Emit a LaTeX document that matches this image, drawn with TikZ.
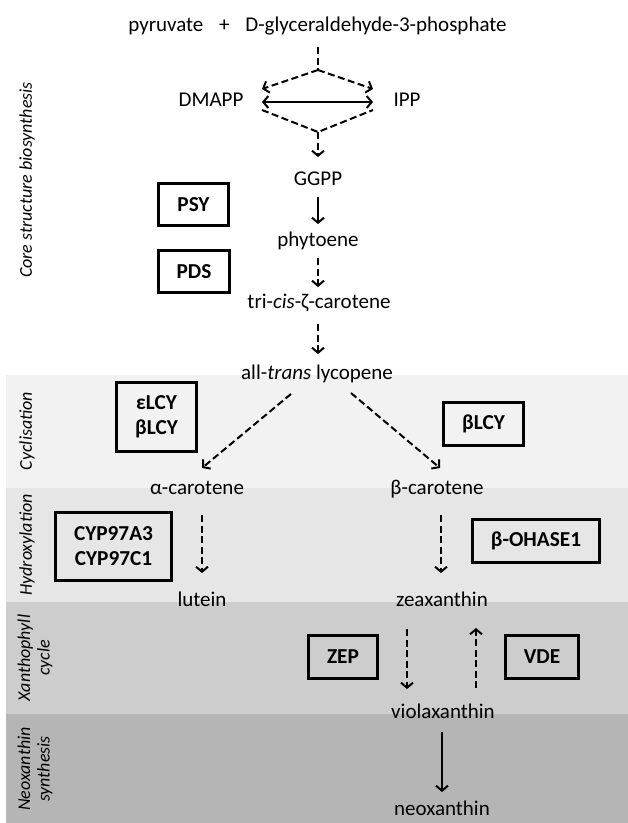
\documentclass[tikz,border=0pt]{standalone}
\usepackage{fontspec}
\setmainfont{Carlito}
\usetikzlibrary{arrows.meta,calc}
\definecolor{bandA}{HTML}{F2F2F2}
\definecolor{bandB}{HTML}{E6E6E6}
\definecolor{bandC}{HTML}{CDCDCD}
\definecolor{bandD}{HTML}{B5B5B5}
\begin{document}
\begin{tikzpicture}[x=1pt,y=-1pt,
  lbl/.style={inner sep=0pt, font=\fontsize{21}{25}\selectfont, text height=14.5pt, text depth=4.5pt},
  enz/.style={draw, line width=2.6pt, inner sep=0pt, align=center, font=\fontsize{21.3}{25}\selectfont\bfseries},
  side/.style={rotate=90, inner sep=0pt, align=center, font=\fontsize{18}{19.5}\selectfont\itshape},
  tip/.style={-{Straight Barb[length=5pt,width=12pt]}},
  arr/.style={line width=2pt, tip},
  dsh/.style={line width=2pt, dash pattern=on 7pt off 3.5pt},
  dar/.style={dsh, tip},
]
\useasboundingbox (0,0) rectangle (628,823);
\fill[white] (0,0) rectangle (628,823);
\fill[bandA] (6,375) rectangle (628,488);
\fill[bandB] (6,488) rectangle (628,601.5);
\fill[bandC] (6,601.5) rectangle (628,714);
\fill[bandD] (6,714) rectangle (628,823);

% side labels
\node[side] (lcore) at (27,180) {Core structure biosynthesis};
\node[side] (lcyc) at (27,431) {Cyclisation};
\node[side] (lhyd) at (27,545) {Hydroxylation};
\node[side] (lxan) at (35,658) {Xanthophyll\\cycle};
\node[side] (lneo) at (35,769) {Neoxanthin\\synthesis};

% metabolites
\node[lbl] (pyr) at (317.5,26) {pyruvate\hspace{0.75em}+\hspace{0.75em}D-glyceraldehyde-3-phosphate};
\node[lbl] (dmapp) at (211,101) {DMAPP};
\node[lbl] (ipp) at (407,101) {IPP};
\node[lbl] (ggpp) at (318,180) {GGPP};
\node[lbl] (phy) at (318,241) {phytoene};
\node[lbl] (tri) at (319,303) {tri-\textit{cis}-ζ-carotene};
\node[lbl] (lyc) at (317,374) {all-\textit{trans} lycopene};
\node[lbl] (alpha) at (197,489) {α-carotene};
\node[lbl] (beta) at (437,489) {β-carotene};
\node[lbl] (lut) at (202,601) {lutein};
\node[lbl] (zea) at (442,601) {zeaxanthin};
\node[lbl] (vio) at (443,713) {violaxanthin};
\node[lbl] (neo) at (442,810) {neoxanthin};

% enzymes
\node[enz, minimum width=70.5pt, minimum height=42.5pt] (psy) at (193.5,204.5) {PSY};
\node[enz, minimum width=71.5pt, minimum height=42.5pt] (pds) at (194,271.5) {PDS};
\node[enz, minimum width=80.5pt, minimum height=69.5pt] (lcye) at (156.5,417) {εLCY\\βLCY};
\node[enz, minimum width=80.5pt, minimum height=43.5pt] (lcyb) at (483.5,424) {βLCY};
\node[enz, minimum width=116.5pt, minimum height=68.5pt] (cyp) at (113.5,546.5) {CYP97A3\\CYP97C1};
\node[enz, minimum width=127.5pt, minimum height=43.5pt] (ohase) at (536,541) {β-OHASE1};
\node[enz, minimum width=69.5pt, minimum height=43.5pt] (zep) at (343,657) {ZEP};
\node[enz, minimum width=73.5pt, minimum height=43.5pt] (vde) at (542,657) {VDE};

% MEP diamond
\coordinate (vtop) at (318,70);
\coordinate (vbot) at (318,132);
\coordinate (dl) at (262,89);
\coordinate (dr) at (373,89);
\coordinate (bl) at (262,110);
\coordinate (br) at (373,110);
\draw[dsh] ($(pyr.center)+(0.5,21)$) -- (vtop);
\draw[dar] (vtop) -- (dl);
\draw[dar] (vtop) -- (dr);
\draw[line width=2pt, {Straight Barb[length=5pt,width=12pt]}-{Straight Barb[length=5pt,width=12pt]}]
  ($(dmapp)+(51,1)$) -- ($(ipp)+(-34,1)$);
\draw[dsh] (bl) -- (vbot) -- (br);
\draw[dar] (vbot) -- ($(ggpp)+(0,-23)$);

% core pathway
\draw[arr] ($(ggpp)+(0,17)$) -- ($(phy)+(0,-17)$);
\draw[dar] ($(phy)+(0,17)$) -- ($(tri)+(-1,-16)$);
\draw[dar] ($(tri)+(-1,21)$) -- ($(lyc)+(1,-20)$);

% cyclisation
\draw[dar] ($(lyc)+(-26,20)$) -- ($(alpha)+(5,-21)$);
\draw[dar] ($(lyc)+(34,19)$) -- ($(beta)+(3,-21)$);

% hydroxylation
\draw[dar] ($(alpha)+(5,26)$) -- ($(lut)+(0,-28)$);
\draw[dar] ($(beta)+(4,26)$) -- ($(zea)+(-1,-28)$);

% xanthophyll cycle
\draw[dar] ($(zea)+(-35,28)$) -- ($(vio)+(-36,-24)$);
\draw[dar] ($(vio)+(33,-25)$) -- ($(zea)+(34,27)$);

% neoxanthin
\draw[arr] ($(vio)+(-1,19)$) -- ($(neo)+(0,-18)$);
\end{tikzpicture}
\end{document}
